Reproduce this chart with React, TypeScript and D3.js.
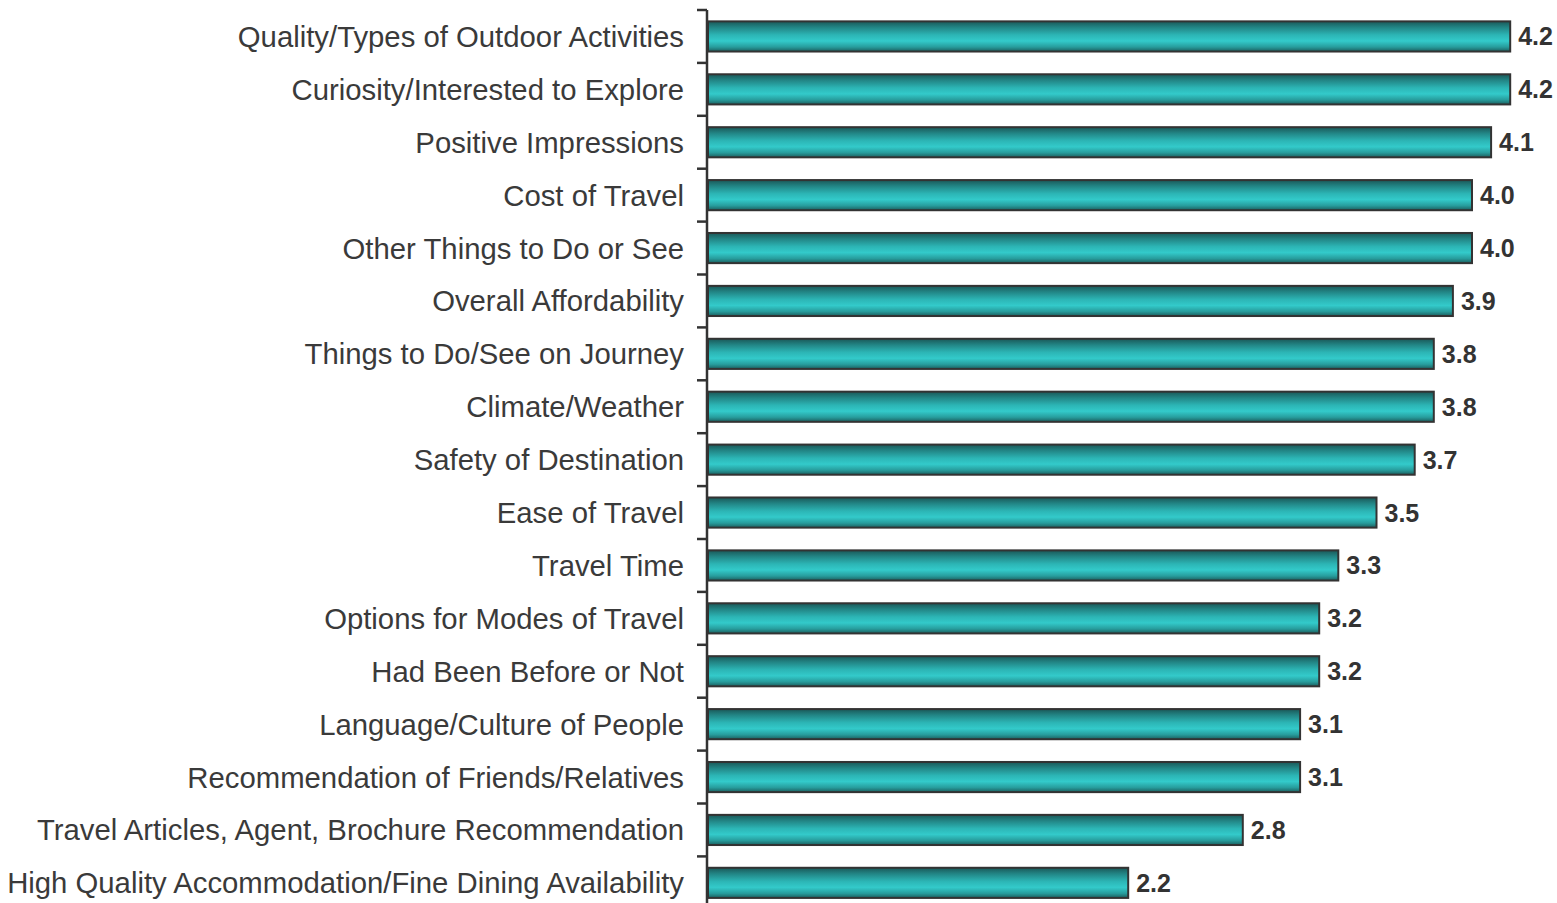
import React from "react";
import * as d3 from "d3";

const categories = [
  "Quality/Types of Outdoor Activities",
  "Curiosity/Interested to Explore",
  "Positive Impressions",
  "Cost of Travel",
  "Other Things to Do or See",
  "Overall Affordability",
  "Things to Do/See on Journey",
  "Climate/Weather",
  "Safety of Destination",
  "Ease of Travel",
  "Travel Time",
  "Options for Modes of Travel",
  "Had Been Before or Not",
  "Language/Culture of People",
  "Recommendation of Friends/Relatives",
  "Travel Articles, Agent, Brochure Recommendation",
  "High Quality Accommodation/Fine Dining Availability",
];

const values = [4.2, 4.2, 4.1, 4.0, 4.0, 3.9, 3.8, 3.8, 3.7, 3.5, 3.3, 3.2, 3.2, 3.1, 3.1, 2.8, 2.2];

const W = 1557;
const H = 903;

export default function App() {
  const axisX = 707;
  const y = d3
    .scaleBand<string>()
    .domain(categories)
    .range([10, 10 + 52.9 * categories.length])
    .paddingInner(0.43)
    .paddingOuter(0.215);
  const x = d3.scaleLinear().domain([0, 5]).range([708, 708 + 191 * 5]);
  const step = y.step();
  const tickYs = d3.range(categories.length + 1).map((i) => 10 + i * step);

  return (
    <svg
      width={W}
      height={H}
      style={{ position: "absolute", left: 0, top: 0, display: "block" }}
      fontFamily="Liberation Sans, Arial, sans-serif"
    >
      <defs>
        <linearGradient id="barGrad" x1="0" y1="0" x2="0" y2="1">
          <stop offset="0" stopColor="#1a5858" />
          <stop offset="0.2" stopColor="#228585" />
          <stop offset="0.45" stopColor="#2cb5b5" />
          <stop offset="0.65" stopColor="#33caca" />
          <stop offset="0.85" stopColor="#279c9c" />
          <stop offset="1" stopColor="#1b5e5e" />
        </linearGradient>
      </defs>
      <rect x={0} y={0} width={W} height={H} fill="#ffffff" />
      {categories.map((c, i) => {
        const by = y(c)!;
        const bh = y.bandwidth();
        const x1 = x(values[i]);
        return (
          <g key={c}>
            <rect
              x={x(0)}
              y={by}
              width={x1 - x(0)}
              height={bh}
              fill="url(#barGrad)"
              stroke="#333333"
              strokeWidth={2}
            />
            <text
              x={x1 + 8}
              y={by + bh / 2}
              dy="0.36em"
              fontSize={25}
              fontWeight="bold"
              fill="#333333"
            >
              {values[i].toFixed(1)}
            </text>
            <text
              x={684}
              y={by + bh / 2}
              dy="0.36em"
              fontSize={29.3}
              textAnchor="end"
              fill="#3a3a3a"
            >
              {c}
            </text>
          </g>
        );
      })}
      <line x1={axisX} x2={axisX} y1={10} y2={H + 20} stroke="#333333" strokeWidth={2.5} />
      {tickYs.map((t, i) => (
        <line key={i} x1={697} x2={axisX} y1={t} y2={t} stroke="#333333" strokeWidth={2.5} />
      ))}
    </svg>
  );
}
